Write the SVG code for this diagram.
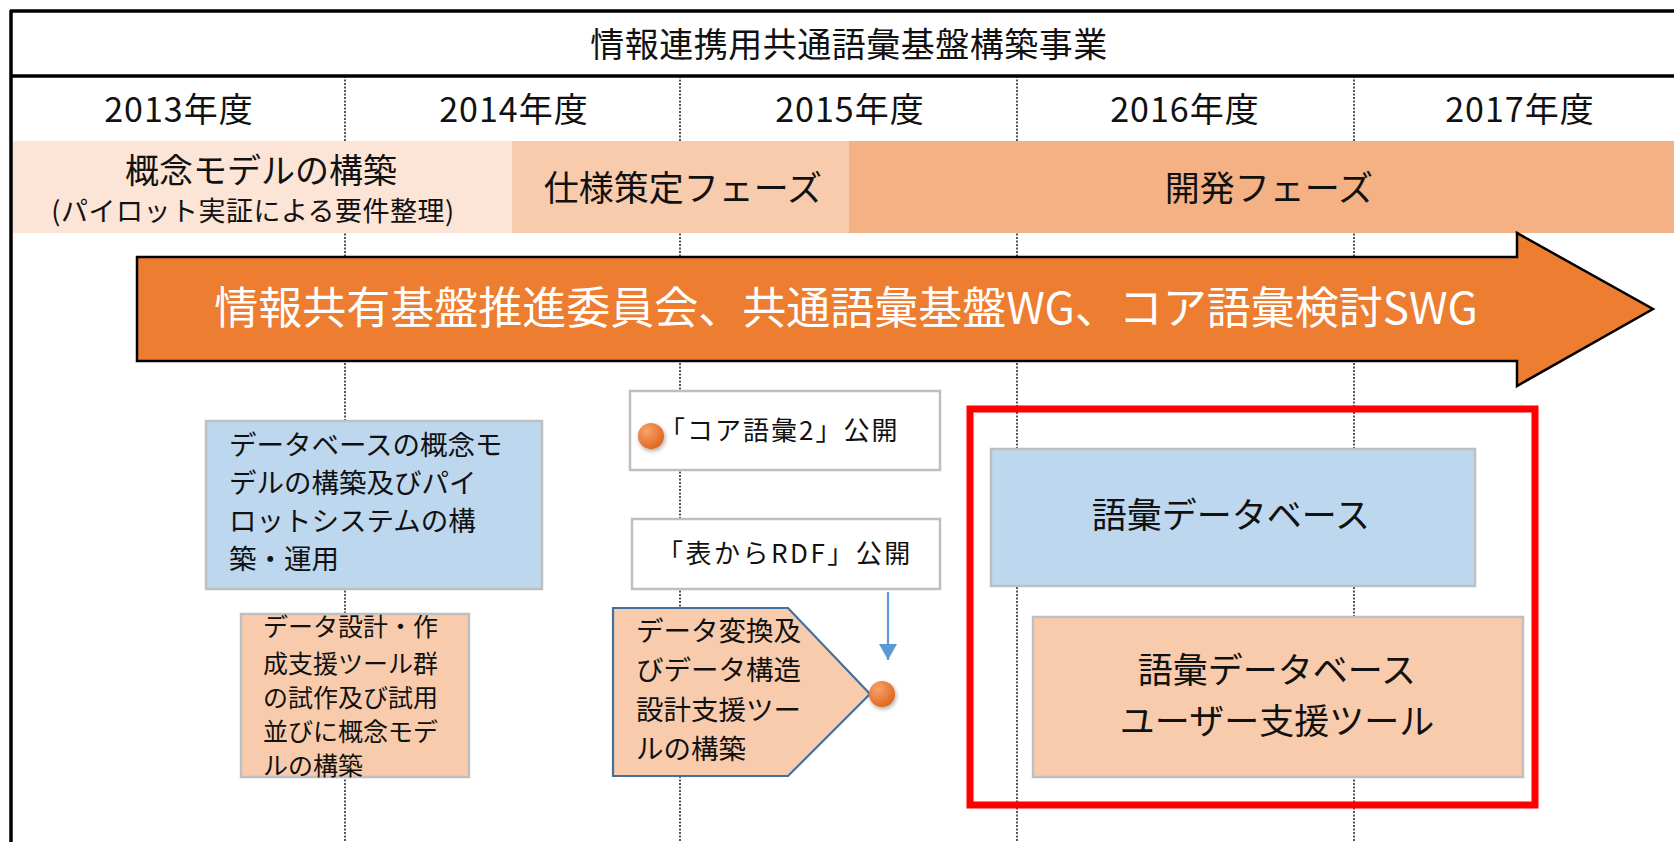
<svg xmlns="http://www.w3.org/2000/svg" width="1674" height="842" viewBox="0 0 1674 842">
<style>
text{font-family:"Noto Sans CJK JP","Noto Sans",sans-serif;fill:#111;dominant-baseline:central}
.c{text-anchor:middle}
.frame{stroke:#000;stroke-width:3.5;fill:none}
.dot{stroke:#444;stroke-width:1.8;stroke-dasharray:2 1.5;fill:none}
.box{stroke:#BFBFBF;stroke-width:2.5}
.blue{fill:#BDD7EE}
.peach{fill:#F8CBAD}
.white{fill:#fff}
.ball{fill:url(#ballg);filter:url(#sh)}
</style>
<defs>
<radialGradient id="ballg" cx="0.35" cy="0.3" r="0.75">
<stop offset="0" stop-color="#F6A46C"/>
<stop offset="1" stop-color="#E0641A"/>
</radialGradient>
<filter id="sh" x="-50%" y="-50%" width="200%" height="200%">
<feDropShadow dx="1" dy="2" stdDeviation="2" flood-color="#000" flood-opacity="0.35"/>
</filter>
<marker id="ah" viewBox="0 0 16 18" refX="16" refY="9" markerWidth="16" markerHeight="18" markerUnits="userSpaceOnUse" orient="auto">
<path d="M0,0 L16,9 L0,18 Z" fill="#5B9BD5"/>
</marker>
</defs>
<rect width="1674" height="842" fill="#fff"/>
<g id="grid">
<line class="dot" x1="345" y1="76" x2="345" y2="842"/>
<line class="dot" x1="680" y1="76" x2="680" y2="842"/>
<line class="dot" x1="1017" y1="76" x2="1017" y2="842"/>
<line class="dot" x1="1354" y1="76" x2="1354" y2="842"/>
</g>
<g id="frame">
<line class="frame" x1="10" y1="11" x2="1674" y2="11"/>
<line class="frame" x1="10" y1="76" x2="1674" y2="76"/>
<line class="frame" x1="11" y1="10" x2="11" y2="842"/>
</g>
<g id="title"><text class="c" x="849" y="42" font-size="34" letter-spacing="0.5">情報連携用共通語彙基盤構築事業</text></g>
<g id="years">
<text class="c" x="179" y="107" font-size="34" letter-spacing="1">2013年度</text>
<text class="c" x="514" y="107" font-size="34" letter-spacing="1">2014年度</text>
<text class="c" x="850" y="107" font-size="34" letter-spacing="1">2015年度</text>
<text class="c" x="1185" y="107" font-size="34" letter-spacing="1">2016年度</text>
<text class="c" x="1520" y="107" font-size="34" letter-spacing="1">2017年度</text>
</g>
<g id="phase1">
<rect x="13" y="141" width="499" height="92" fill="#FCE4D6"/>
<text class="c" x="261" y="168" font-size="34">概念モデルの構築</text>
<text class="c" x="253" y="209" font-size="27" letter-spacing="0.5">(パイロット実証による要件整理)</text>
</g>
<g id="phase2">
<rect x="512" y="141" width="337" height="92" fill="#F8CBAD"/>
<text class="c" x="683" y="185" font-size="35">仕様策定フェーズ</text>
</g>
<g id="phase3">
<rect x="849" y="141" width="825" height="92" fill="#F4B183"/>
<text class="c" x="1269" y="185" font-size="35">開発フェーズ</text>
</g>
<g id="committee">
<path d="M137,257 H1517 V233 L1653,309 L1517,386 V361 H137 Z" fill="#ED7D31" stroke="#000" stroke-width="2.5"/>
<text class="c" x="846" y="305" font-size="44" style="fill:#fff">情報共有基盤推進委員会、共通語彙基盤WG、コア語彙検討SWG</text>
</g>
<g id="db-model">
<rect class="box blue" x="206" y="421" width="336" height="168"/>
<text x="229" y="443" font-size="27.5">データベースの概念モ</text>
<text x="229" y="481" font-size="27.5">デルの構築及びパイ</text>
<text x="229" y="519" font-size="27.5">ロットシステムの構</text>
<text x="229" y="557" font-size="27.5">築・運用</text>
</g>
<g id="tool-trial">
<rect class="box peach" x="241" y="614" width="228" height="163"/>
<text x="263" y="625" font-size="25">データ設計・作</text>
<text x="263" y="662" font-size="25">成支援ツール群</text>
<text x="263" y="696" font-size="25">の試作及び試用</text>
<text x="263" y="730" font-size="25">並びに概念モデ</text>
<text x="263" y="764" font-size="25">ルの構築</text>
</g>
<g id="core2">
<rect class="box white" x="630" y="391" width="310" height="79"/>
<text x="659" y="428" font-size="26" letter-spacing="2">「コア語彙2」公開</text>
<circle class="ball" cx="651" cy="436" r="13"/>
</g>
<g id="rdf">
<rect class="box white" x="632" y="519" width="308" height="70"/>
<text class="c" x="785" y="551" font-size="26" letter-spacing="2.5">「表からRDF」公開</text>
</g>
<g id="conv-tool">
<path d="M613,608 H788 L870,694 L788,776 H613 Z" fill="#F8CBAD" stroke="#41719C" stroke-width="2.2"/>
<text x="636" y="629" font-size="27.5">データ変換及</text>
<text x="636" y="668" font-size="27.5">びデータ構造</text>
<text x="636" y="708" font-size="27.5">設計支援ツー</text>
<text x="636" y="747" font-size="27.5">ルの構築</text>
<circle class="ball" cx="882" cy="694" r="13"/>
</g>
<g id="connectors">
<line x1="888" y1="592" x2="888" y2="660" stroke="#5B9BD5" stroke-width="2.2" marker-end="url(#ah)"/>
</g>
<g id="vocab-db">
<rect class="box blue" x="991" y="449" width="484" height="137"/>
<text class="c" x="1231" y="512" font-size="35">語彙データベース</text>
</g>
<g id="vocab-tool">
<rect class="box peach" x="1033" y="617" width="490" height="160"/>
<text class="c" x="1277" y="667" font-size="35">語彙データベース</text>
<text class="c" x="1277" y="718" font-size="35">ユーザー支援ツール</text>
</g>
<g id="highlight">
<rect x="970" y="409" width="565" height="396" fill="none" stroke="#FF0000" stroke-width="7"/>
</g>
</svg>
